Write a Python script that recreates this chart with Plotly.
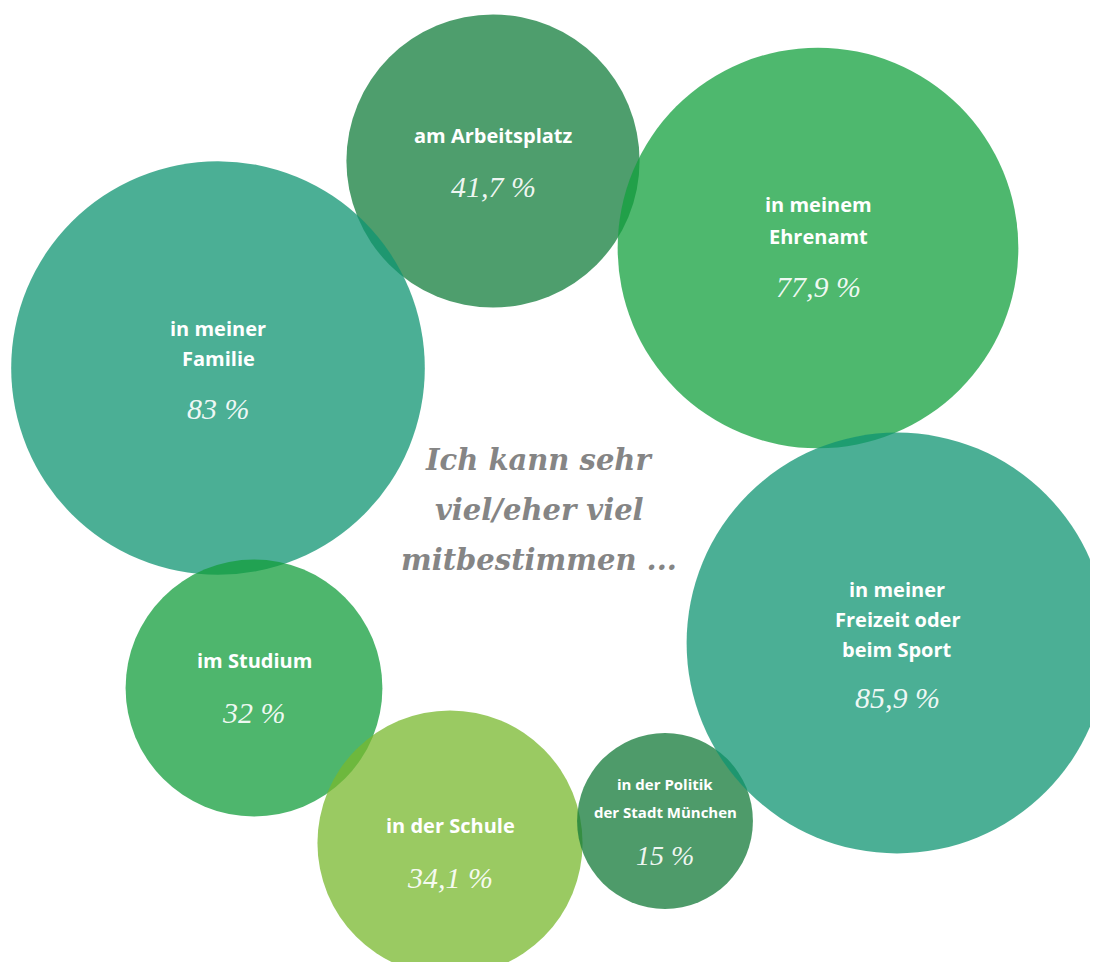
import plotly.graph_objects as go
import math

# ---- data ----
categories = [
    "am Arbeitsplatz",
    "in meinem<br>Ehrenamt",
    "in meiner<br>Familie",
    "im Studium",
    "in der Schule",
    "in der Politik<br>der Stadt München",
    "in meiner<br>Freizeit oder<br>beim Sport",
]
values = [41.7, 77.9, 83.0, 32.0, 34.1, 15.0, 85.9]
value_labels = ["41,7 %", "77,9 %", "83 %", "32 %", "34,1 %", "15 %", "85,9 %"]
center_title = ["Ich kann sehr", "viel/eher viel", "mitbestimmen ..."]

# ---- layout (pixel positions of bubble centres) ----
cx = [493, 818, 218, 254, 450, 665, 897]
cy = [161, 248, 368, 688, 843, 821, 643]
label_top = [135, 204, 328, 660, 825, 784, 589]   # y of first label line
pct_gap = [51, 50, 50, 52, 52, 43, 48]            # gap from last label line to percent
line_h = [30, 32, 30, 30, 30, 28, 30]
label_size = [20, 20, 20, 20, 20, 15, 20]
colors = ["rgb(19,126,60)", "rgb(19,160,62)", "rgb(15,148,114)", "rgb(19,158,60)",
          "rgb(120,184,46)", "rgb(19,122,56)", "rgb(15,148,114)"]
SCALE = 22.7  # px radius per sqrt(percent)

W, H = 1098, 970
OFF = 8  # page body margin

fig = go.Figure()
fig.add_trace(go.Scatter(
    x=cx, y=cy, mode="markers", cliponaxis=False,
    marker=dict(size=[2 * SCALE * math.sqrt(v) for v in values], sizemode="diameter",
                color=colors, opacity=0.75, line=dict(width=0)),
    hoverinfo="skip", showlegend=False,
))

annotations = []
for i, cat in enumerate(categories):
    lines = cat.split("<br>")
    for j, ln in enumerate(lines):
        annotations.append(dict(
            x=cx[i], y=label_top[i] + j * line_h[i], text=ln, showarrow=False,
            xanchor="center", yanchor="middle",
            font=dict(family="Open Sans", size=label_size[i], color="white", weight="bold"),
        ))
    py = label_top[i] + (len(lines) - 1) * line_h[i] + pct_gap[i]
    annotations.append(dict(
        x=cx[i], y=py, text=value_labels[i], showarrow=False,
        xanchor="center", yanchor="middle",
        font=dict(family="Liberation Serif", size=30 if label_size[i] == 20 else 28,
                  color="rgba(255,255,255,0.92)", style="italic"),
    ))

for j, ln in enumerate(center_title):
    annotations.append(dict(
        x=539, y=460 + j * 50, text=ln, showarrow=False,
        xanchor="center", yanchor="middle",
        font=dict(family="DejaVu Serif", size=29, color="#858585",
                  style="italic", weight="bold"),
    ))

PW, PH = W, H - 2 * OFF
fig.update_layout(
    width=PW, height=PH,
    margin=dict(l=0, r=0, t=0, b=0),
    paper_bgcolor="white", plot_bgcolor="white",
    xaxis=dict(range=[OFF, OFF + PW], visible=False, fixedrange=True),
    yaxis=dict(range=[OFF + PH, OFF], visible=False, fixedrange=True),
    annotations=annotations,
)

fig.write_html("out.html")
